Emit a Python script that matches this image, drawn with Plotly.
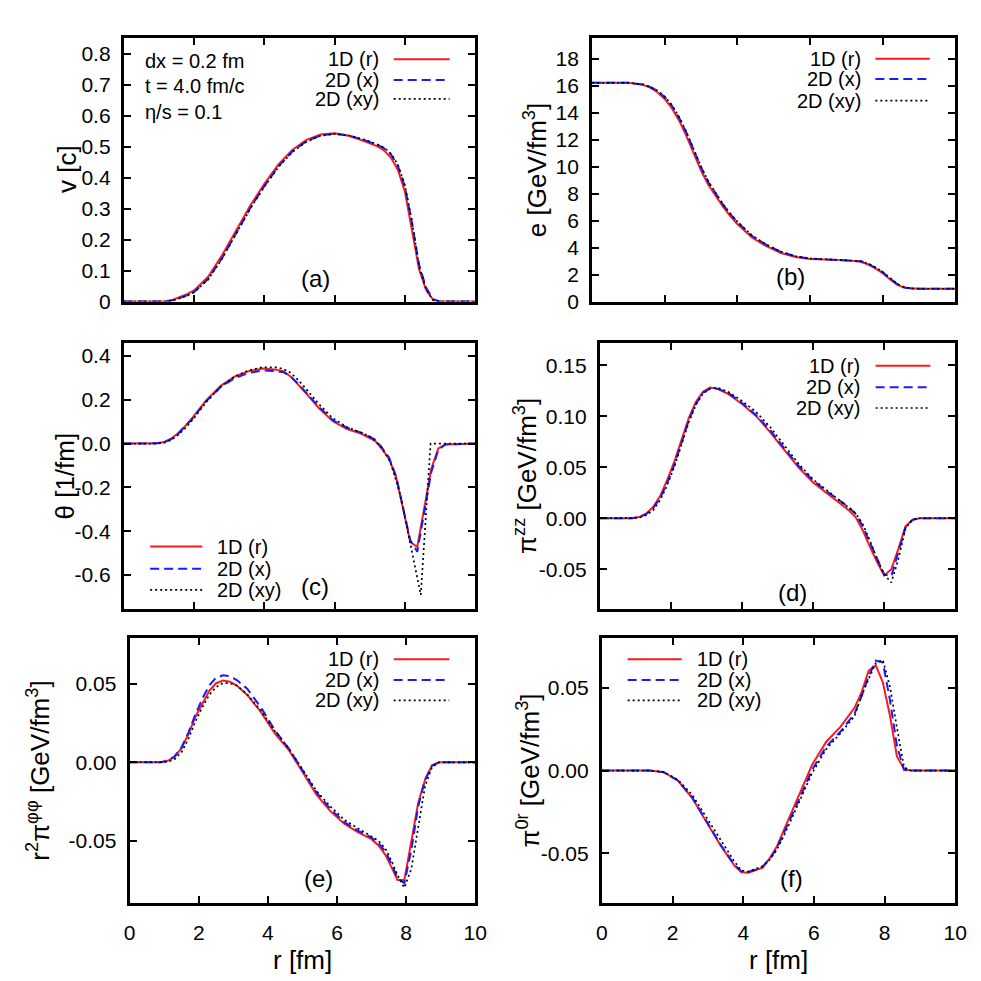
import plotly.graph_objects as go

SERIES = ['1D (r)', '2D (x)', '2D (xy)']

# (a) flow velocity v [c]
r_a = [0, 1.0, 1.2, 1.4, 1.6, 1.8, 2.0, 2.4, 2.8, 3.2, 3.6, 4.0, 4.4, 4.8, 5.2,
       5.6, 6.0, 6.4, 6.8, 7.2, 7.4, 7.6, 7.8, 8.0, 8.2, 8.4, 8.6, 8.8, 9.0, 10]
v_1d = [0, 0, 0.001, 0.006, 0.014, 0.024, 0.036, 0.080, 0.150, 0.230, 0.310, 0.380, 0.443, 0.490, 0.522,
        0.539, 0.543, 0.535, 0.520, 0.502, 0.488, 0.465, 0.425, 0.355, 0.235, 0.105, 0.038, 0.006, 0, 0]
v_2dx = [0, 0, 0.000, 0.004, 0.011, 0.020, 0.031, 0.073, 0.141, 0.221, 0.302, 0.373, 0.436, 0.485, 0.518,
         0.536, 0.542, 0.536, 0.523, 0.507, 0.495, 0.475, 0.438, 0.370, 0.255, 0.120, 0.045, 0.008, 0, 0]
v_2dxy = [0, 0, 0.000, 0.003, 0.010, 0.019, 0.030, 0.071, 0.139, 0.219, 0.300, 0.371, 0.434, 0.483, 0.516,
          0.535, 0.541, 0.536, 0.524, 0.508, 0.497, 0.478, 0.442, 0.375, 0.260, 0.115, 0.040, 0.004, 0, 0]

# (b) energy density e [GeV/fm^3]
r_b = [0, 1.0, 1.4, 1.6, 1.8, 2.0, 2.2, 2.4, 2.6, 2.8, 3.0, 3.2, 3.4, 3.6, 3.8, 4.0, 4.4,
       4.8, 5.2, 5.6, 6.0, 6.5, 7.0, 7.4, 7.6, 7.8, 8.0, 8.2, 8.4, 8.6, 8.8, 9.0, 10]
e_1d = [16.2, 16.2, 16.05, 15.85, 15.5, 15.0, 14.3, 13.4, 12.25, 10.95, 9.7, 8.65, 7.8, 7.05, 6.35, 5.75, 4.75,
        4.1, 3.6, 3.3, 3.15, 3.1, 3.07, 2.95, 2.75, 2.45, 2.1, 1.65, 1.25, 1.02, 0.96, 0.95, 0.95]
e_2dx = [16.2, 16.2, 16.08, 15.9, 15.6, 15.15, 14.5, 13.6, 12.5, 11.2, 9.95, 8.85, 7.98, 7.2, 6.5, 5.9, 4.87,
         4.2, 3.68, 3.35, 3.18, 3.12, 3.08, 2.98, 2.8, 2.52, 2.18, 1.72, 1.3, 1.05, 0.96, 0.95, 0.95]
e_2dxy = [16.2, 16.2, 16.08, 15.9, 15.62, 15.18, 14.55, 13.65, 12.55, 11.25, 10.0, 8.9, 8.02, 7.23, 6.53, 5.93, 4.9,
          4.22, 3.7, 3.36, 3.19, 3.12, 3.08, 2.99, 2.82, 2.55, 2.2, 1.75, 1.32, 1.06, 0.96, 0.95, 0.95]

# (c) expansion rate theta [1/fm]
r_c = [0, 0.75, 0.95, 1.15, 1.35, 1.55, 1.75, 1.95, 2.35, 2.75, 3.15, 3.55, 3.95, 4.35, 4.55, 4.75, 4.95,
       5.15, 5.55, 5.95, 6.35, 6.75, 7.15, 7.35, 7.55, 7.75, 7.95, 8.15, 8.35, 8.55, 8.75, 8.95, 9.15, 10]
th_1d = [0, 0, 0.001, 0.007, 0.022, 0.048, 0.080, 0.117, 0.198, 0.262, 0.305, 0.330, 0.342, 0.337, 0.329, 0.305, 0.272,
         0.236, 0.162, 0.102, 0.066, 0.045, 0.012, -0.025, -0.07, -0.155, -0.30, -0.449, -0.472, -0.30, -0.115, -0.022, -0.004, 0]
th_2dx = [0, 0, 0.001, 0.006, 0.020, 0.045, 0.077, 0.113, 0.194, 0.257, 0.298, 0.322, 0.333, 0.330, 0.325, 0.305, 0.275,
          0.240, 0.167, 0.106, 0.072, 0.050, 0.018, -0.020, -0.065, -0.15, -0.29, -0.44, -0.494, -0.32, -0.13, -0.028, -0.004, 0]
r_c_xy = [0, 0.75, 0.95, 1.15, 1.35, 1.55, 1.75, 1.95, 2.35, 2.75, 3.15, 3.55, 3.95, 4.35, 4.55, 4.75, 4.95,
          5.15, 5.55, 5.95, 6.35, 6.75, 7.05, 7.31, 7.59, 7.87, 8.15, 8.45, 8.73, 10]
th_2dxy = [0, 0, 0.0, 0.004, 0.016, 0.040, 0.070, 0.106, 0.190, 0.258, 0.305, 0.334, 0.348, 0.347, 0.340, 0.322, 0.292,
           0.256, 0.180, 0.115, 0.075, 0.050, 0.028, -0.012, -0.085, -0.235, -0.457, -0.69, 0, 0]

# (d) pi^zz [GeV/fm^3]
r_d = [0, 0.9, 1.1, 1.3, 1.5, 1.7, 1.9, 2.1, 2.3, 2.5, 2.7, 2.9, 3.1, 3.3, 3.6, 4.0, 4.4, 4.8,
       5.2, 5.6, 6.0, 6.4, 6.8, 7.0, 7.2, 7.4, 7.6, 7.8, 8.0, 8.2, 8.4, 8.6, 8.8, 9.0, 10]
pzz_1d = [0, 0, 0.0012, 0.0045, 0.011, 0.022, 0.038, 0.056, 0.077, 0.098, 0.114, 0.124, 0.128, 0.127, 0.122, 0.112, 0.100, 0.084,
          0.0666, 0.0495, 0.035, 0.024, 0.0135, 0.008, 0.001, -0.012, -0.028, -0.043, -0.056, -0.050, -0.030, -0.008, -0.0015, 0, 0]
pzz_2dx = [0, 0, 0.001, 0.004, 0.010, 0.020, 0.035, 0.053, 0.074, 0.096, 0.112, 0.123, 0.127, 0.127, 0.123, 0.113, 0.101, 0.086,
           0.068, 0.051, 0.037, 0.026, 0.016, 0.011, 0.004, -0.008, -0.024, -0.040, -0.055, -0.057, -0.034, -0.009, -0.0015, 0, 0]
pzz_2dxy = [0, 0, 0.0005, 0.003, 0.008, 0.018, 0.033, 0.051, 0.072, 0.094, 0.111, 0.122, 0.127, 0.128, 0.124, 0.115, 0.104, 0.089,
            0.071, 0.053, 0.038, 0.027, 0.016, 0.011, 0.005, -0.006, -0.022, -0.040, -0.055, -0.063, -0.040, -0.010, -0.001, 0, 0]

# (e) r^2 pi^phiphi [GeV/fm^3]
r_e = [0, 0.9, 1.1, 1.3, 1.5, 1.7, 1.9, 2.1, 2.3, 2.5, 2.7, 2.9, 3.1, 3.4, 3.8, 4.2, 4.6,
       5.0, 5.4, 5.8, 6.2, 6.6, 7.0, 7.2, 7.4, 7.6, 7.75, 7.95, 8.15, 8.35, 8.55, 8.75, 8.95, 10]
pff_1d = [0, 0, 0.001, 0.0035, 0.009, 0.018, 0.029, 0.0375, 0.0455, 0.0505, 0.0522, 0.0515, 0.049, 0.043, 0.032, 0.0185, 0.008,
          -0.006, -0.0205, -0.031, -0.039, -0.0445, -0.049, -0.053, -0.059, -0.068, -0.075, -0.075, -0.049, -0.0257, -0.011, -0.002, 0, 0]
pff_2dx = [0, 0, 0.001, 0.0038, 0.0095, 0.019, 0.0305, 0.0405, 0.049, 0.054, 0.0555, 0.055, 0.0525, 0.047, 0.035, 0.0205, 0.009,
           -0.005, -0.019, -0.0295, -0.038, -0.0435, -0.048, -0.0515, -0.057, -0.066, -0.074, -0.077, -0.056, -0.028, -0.011, -0.002, 0, 0]
pff_2dxy = [0, 0, 0.0003, 0.002, 0.0065, 0.015, 0.026, 0.035, 0.043, 0.048, 0.0505, 0.0505, 0.049, 0.0435, 0.033, 0.020, 0.009,
            -0.0045, -0.018, -0.028, -0.0365, -0.042, -0.047, -0.050, -0.055, -0.064, -0.072, -0.080, -0.068, -0.040, -0.015, -0.003, 0, 0]

# (f) pi^0r [GeV/fm^3]
r_f = [0, 1.35, 1.75, 2.15, 2.55, 2.95, 3.35, 3.75, 3.95, 4.15, 4.35, 4.55, 4.75, 4.95, 5.15,
       5.55, 5.95, 6.35, 6.75, 7.15, 7.35, 7.55, 7.75, 7.95, 8.15, 8.35, 8.55, 8.75, 10]
p0r_1d = [0, 0, -0.001, -0.006, -0.0165, -0.031, -0.045, -0.0575, -0.0615, -0.0618, -0.0603, -0.0588, -0.053, -0.046, -0.036,
          -0.016, 0.0035, 0.0175, 0.0265, 0.038, 0.0475, 0.0605, 0.0637, 0.0535, 0.0335, 0.0086, 0.001, 0, 0]
p0r_2dx = [0, 0, -0.001, -0.006, -0.016, -0.030, -0.0445, -0.057, -0.061, -0.0612, -0.060, -0.058, -0.0535, -0.047, -0.038,
           -0.019, 0.0005, 0.0145, 0.0235, 0.0345, 0.045, 0.057, 0.0665, 0.0655, 0.043, 0.015, 0.0005, 0, 0]
p0r_2dxy = [0, 0, -0.0008, -0.0055, -0.0145, -0.028, -0.042, -0.055, -0.0605, -0.0612, -0.0595, -0.058, -0.054, -0.048, -0.0395,
            -0.021, -0.0015, 0.013, 0.0225, 0.033, 0.0455, 0.0555, 0.065, 0.067, 0.051, 0.026, 0.002, 0, 0]

# tick labels
x_ticks = [0, 2, 4, 6, 8, 10]
yt_a = [0, 0.1, 0.2, 0.3, 0.4, 0.5, 0.6, 0.7, 0.8]
yl_a = ['0', '0.1', '0.2', '0.3', '0.4', '0.5', '0.6', '0.7', '0.8']
yt_b = [0, 2, 4, 6, 8, 10, 12, 14, 16, 18]
yl_b = ['0', '2', '4', '6', '8', '10', '12', '14', '16', '18']
yt_c = [-0.6, -0.4, -0.2, 0, 0.2, 0.4]
yl_c = ['-0.6', '-0.4', '-0.2', '0.0', '0.2', '0.4']
yt_d = [-0.05, 0, 0.05, 0.10, 0.15]
yl_d = ['-0.05', '0.00', '0.05', '0.10', '0.15']
yt_ef = [-0.05, 0, 0.05]
yl_ef = ['-0.05', '0.00', '0.05']

notes_a = ['dx = 0.2 fm', 't = 4.0 fm/c', 'η/s = 0.1']

# ---- styling / placement ----
FONT = 'Liberation Sans, Arial, sans-serif'
W = 981
LINES = [dict(color='#ff1a1a', width=2, dash='solid'),
         dict(color='#1a1aff', width=2, dash='9px,5px'),
         dict(color='black', width=1.7, dash='2px,3px')]

panels = [
    dict(box=(120, 478, 38, 305), data=[(r_a, v_1d), (r_a, v_2dx), (r_a, v_2dxy)],
         yrange=[0, 0.852], yt=yt_a, yl=yl_a, ytitle='v [c]', tpos=(62, 171),
         label='(a)', lpos=(0.545, 0.086),
         key=dict(side='right', tx=0.731, s=(0.768, 0.927), rows=(0.918, 0.839, 0.768))),
    dict(box=(597, 967, 38, 305), data=[(r_b, e_1d), (r_b, e_2dx), (r_b, e_2dxy)],
         yrange=[0, 19.55], yt=yt_b, yl=yl_b, ytitle='e [GeV/fm<sup>3</sup>]', tpos=(539, 172),
         label='(b)', lpos=(0.547, 0.094),
         key=dict(side='right', tx=0.745, s=(0.78, 0.93), rows=(0.92, 0.843, 0.761))),
    dict(box=(120, 478, 347, 616), data=[(r_c, th_1d), (r_c, th_2dx), (r_c_xy, th_2dxy)],
         yrange=[-0.755, 0.458], yt=yt_c, yl=yl_c, ytitle='θ [1/fm]', tpos=(60, 481),
         label='(c)', lpos=(0.545, 0.084),
         key=dict(side='left', tx=0.26, s=(0.075, 0.2235), rows=(0.235, 0.152, 0.072))),
    dict(box=(605, 967, 347, 616), data=[(r_d, pzz_1d), (r_d, pzz_2dx), (r_d, pzz_2dxy)],
         yrange=[-0.089, 0.1716], yt=yt_d, yl=yl_d, ytitle='π<sup>zz</sup> [GeV/fm<sup>3</sup>]', tpos=(529, 481),
         label='(d)', lpos=(0.543, 0.063),
         key=dict(side='right', tx=0.737, s=(0.776, 0.93), rows=(0.9145, 0.834, 0.756))),
    dict(box=(126, 478, 645, 913), data=[(r_e, pff_1d), (r_e, pff_2dx), (r_e, pff_2dxy)],
         yrange=[-0.0896, 0.0795], yt=yt_ef, yl=yl_ef,
         ytitle='r<sup>2</sup>π<sup>φφ</sup> [GeV/fm<sup>3</sup>]', tpos=(33, 779),
         label='(e)', lpos=(0.546, 0.092),
         key=dict(side='right', tx=0.726, s=(0.764, 0.925), rows=(0.919, 0.841, 0.764))),
    dict(box=(607, 967, 645, 913), data=[(r_f, p0r_1d), (r_f, p0r_2dx), (r_f, p0r_2dxy)],
         yrange=[-0.080, 0.0804], yt=yt_ef, yl=yl_ef, ytitle='π<sup>0r</sup> [GeV/fm<sup>3</sup>]', tpos=(532, 779),
         label='(f)', lpos=(0.536, 0.092),
         key=dict(side='left', tx=0.263, s=(0.073, 0.226), rows=(0.919, 0.841, 0.764))),
]

fig = go.Figure()
layout = dict(width=W, height=W, autosize=False, margin=dict(l=0, r=0, t=0, b=0),
              paper_bgcolor='white', plot_bgcolor='white', showlegend=False,
              font=dict(family=FONT, size=20, color='black'))
annotations = []
shapes = []

for i, p in enumerate(panels):
    n = i + 1
    xa = 'x' if n == 1 else f'x{n}'
    ya = 'y' if n == 1 else f'y{n}'
    x0, x1, top, bot = p['box']
    bottom_row = n >= 5
    common = dict(showline=True, linecolor='black', linewidth=3, mirror='allticks',
                  ticks='inside', ticklen=7, tickwidth=2, tickcolor='black',
                  showgrid=False, zeroline=False, tickfont=dict(family=FONT, size=21))
    layout['xaxis' if n == 1 else f'xaxis{n}'] = dict(
        domain=[x0 / W, x1 / W], range=[0, 10], anchor=ya,
        tickvals=x_ticks, ticktext=[str(t) for t in x_ticks],
        showticklabels=bottom_row, ticklabelstandoff=9, **common)
    layout['yaxis' if n == 1 else f'yaxis{n}'] = dict(
        domain=[1 - bot / W, 1 - top / W], range=p['yrange'], anchor=xa,
        tickvals=p['yt'], ticktext=p['yl'], ticklabelstandoff=6, **common)

    for (rr, vals), ln, name in zip(p['data'], LINES, SERIES):
        fig.add_trace(go.Scatter(x=rr, y=vals, mode='lines', name=name, line=ln,
                                 xaxis=xa, yaxis=ya, hoverinfo='skip'))

    xd, yd = f'{xa} domain', f'{ya} domain'
    k = p['key']
    for row, ln, name in zip(k['rows'], LINES, SERIES):
        shapes.append(dict(type='line', xref=xd, yref=yd, x0=k['s'][0], x1=k['s'][1],
                           y0=row, y1=row, line=ln))
        annotations.append(dict(xref=xd, yref=yd, x=k['tx'], y=row, text=name, showarrow=False,
                                xanchor='right' if k['side'] == 'right' else 'left',
                                yanchor='middle', font=dict(size=20)))

    annotations.append(dict(xref=xd, yref=yd, x=p['lpos'][0], y=p['lpos'][1], text=p['label'],
                            showarrow=False, xanchor='center', yanchor='middle', font=dict(size=24)))
    annotations.append(dict(xref='paper', yref='paper', x=p['tpos'][0] / W, y=1 - p['tpos'][1] / W,
                            text=p['ytitle'], textangle=-90, showarrow=False,
                            xanchor='center', yanchor='middle', font=dict(size=26)))
    if bottom_row:
        annotations.append(dict(xref=xd, yref='paper', x=0.5, y=1 - 971 / W, text='r [fm]',
                                showarrow=False, xanchor='center', yanchor='middle', font=dict(size=26)))

for j, note in enumerate(notes_a):
    annotations.append(dict(xref='x domain', yref='y domain', x=0.054, y=[0.91, 0.816, 0.719][j],
                            text=note, showarrow=False, xanchor='left', yanchor='middle',
                            font=dict(size=20)))

layout['annotations'] = annotations
layout['shapes'] = shapes
fig.update_layout(**layout)

fig.write_html("out.html", config={'displayModeBar': False},
               post_script="document.body.style.margin='0';")
